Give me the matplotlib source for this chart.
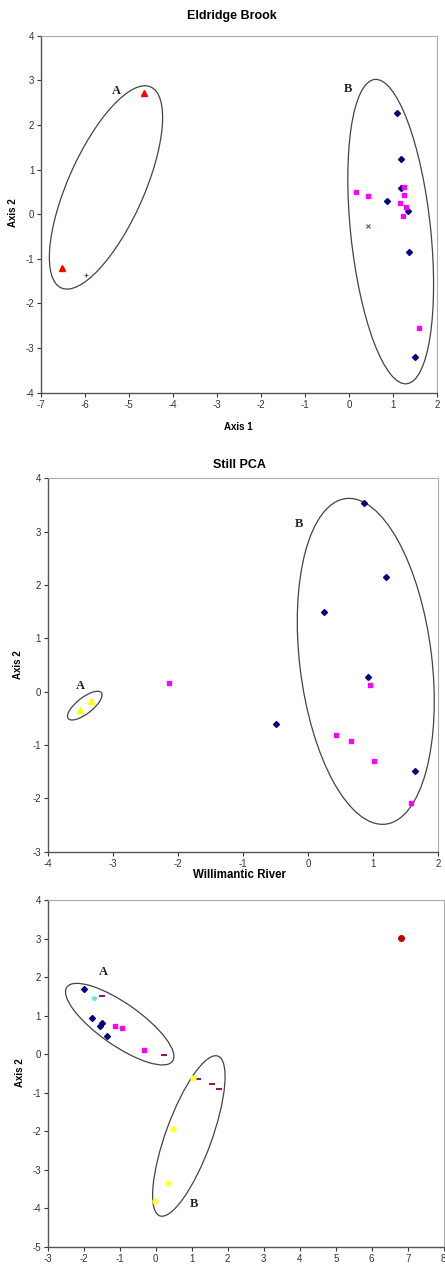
import numpy as np
import matplotlib
matplotlib.use("Agg")
import matplotlib.pyplot as plt
from matplotlib.patches import Ellipse
from matplotlib.transforms import ScaledTranslation

plt.rcParams['font.family'] = ['Liberation Sans', 'DejaVu Sans']
plt.rcParams['axes.unicode_minus'] = False

# ---- Eldridge Brook ----
eb_tri_x = [-4.67, -6.54]
eb_tri_y = [2.71, -1.21]
eb_plus_x = [-5.98]
eb_plus_y = [-1.36]
eb_dia_x = [1.08, 1.17, 1.17, 0.85, 1.34, 1.36, 1.50]
eb_dia_y = [2.27, 1.24, 0.59, 0.29, 0.07, -0.84, -3.21]
eb_sq_x = [0.16, 0.42, 1.24, 1.24, 1.15, 1.29, 1.21, 1.58]
eb_sq_y = [0.50, 0.41, 0.61, 0.44, 0.24, 0.17, -0.04, -2.54]
eb_x_x = [0.42]
eb_x_y = [-0.26]

# ---- Still PCA ----
sp_dia_x = [0.86, 1.20, 0.25, 0.92, -0.49, 1.65]
sp_dia_y = [3.54, 2.15, 1.50, 0.27, -0.61, -1.49]
sp_sq_x = [-2.13, 0.96, 0.43, 0.66, 1.01, 1.59]
sp_sq_y = [0.17, 0.12, -0.82, -0.93, -1.30, -2.09]
sp_tri_x = [-3.50, -3.34]
sp_tri_y = [-0.35, -0.18]

# ---- Willimantic River ----
wr_red_x = [6.80]
wr_red_y = [3.01]
wr_dia_x = [-1.99, -1.78, -1.54, -1.49, -1.35]
wr_dia_y = [1.69, 0.93, 0.74, 0.80, 0.48]
wr_cyan_x = [-1.72]
wr_cyan_y = [1.47]
wr_dash_x = [-1.48, 0.22, 1.18, 1.57, 1.76]
wr_dash_y = [1.52, -0.02, -0.64, -0.76, -0.90]
wr_sq_x = [-1.12, -0.93, -0.33]
wr_sq_y = [0.74, 0.67, 0.12]
wr_yel_x = [1.03, 0.48, 0.34, -0.03]
wr_yel_y = [-0.62, -1.94, -3.35, -3.80]

fig = plt.figure(figsize=(4.45, 12.66), dpi=100)


def style(ax, xl, yl):
    ax.set_xlim(*xl)
    ax.set_ylim(*yl)
    ax.set_xticks(np.arange(xl[0], xl[1] + 1))
    ax.set_yticks(np.arange(yl[0], yl[1] + 1))
    ax.tick_params(labelsize=7, colors='#333333', length=3, width=0.8, pad=2)
    for s in ['top', 'right']:
        ax.spines[s].set_color('#aaaaaa')
        ax.spines[s].set_linewidth(0.8)
    for s in ['left', 'bottom']:
        ax.spines[s].set_color('#555555')
        ax.spines[s].set_linewidth(1.0)


def ring(ax, cx, cy, w, h, ang):
    # size in inches, centre in data units
    tr = fig.dpi_scale_trans + ScaledTranslation(cx, cy, ax.transData)
    ax.add_patch(Ellipse((0, 0), w, h, angle=ang, transform=tr,
                         fill=False, ec='#444444', lw=0.9))


def letter(ax, x, y, t):
    ax.text(x, y, t, family='Liberation Serif', fontweight='bold',
            fontsize=9, ha='center', va='center', color='#222222')


# panel 1
ax1 = fig.add_axes([0.0928, 0.6898, 0.890, 0.282])
style(ax1, (-7, 2), (-4, 4))
ax1.plot(eb_tri_x, eb_tri_y, '^', color='red', ms=4, ls='none')
ax1.plot(eb_plus_x, eb_plus_y, '+', color='#2e6b2e', ms=3, mew=0.8, ls='none')
ax1.plot(eb_dia_x, eb_dia_y, 'D', color='#000080', ms=3, ls='none')
ax1.plot(eb_sq_x, eb_sq_y, 's', color='#ff00ff', ms=3.5, ls='none')
ax1.plot(eb_x_x, eb_x_y, 'x', color='#993399', ms=3, mew=0.8, ls='none')
ring(ax1, -5.53, 0.60, 2.20, 0.76, 66)
ring(ax1, 0.94, -0.39, 0.80, 3.06, 6)
letter(ax1, -5.30, 2.76, 'A')
letter(ax1, -0.04, 2.81, 'B')

# panel 2
ax2 = fig.add_axes([0.1072, 0.3272, 0.877, 0.2949])
style(ax2, (-4, 2), (-3, 4))
ax2.plot(sp_dia_x, sp_dia_y, 'D', color='#000080', ms=3, ls='none')
ax2.plot(sp_sq_x, sp_sq_y, 's', color='#ff00ff', ms=3.5, ls='none')
ax2.plot(sp_tri_x, sp_tri_y, '^', color='#ffff00', ms=4, ls='none')
ring(ax2, -3.43, -0.26, 0.42, 0.16, 38)
ring(ax2, 0.89, 0.57, 1.32, 3.28, 7)
letter(ax2, -3.50, 0.11, 'A')
letter(ax2, -0.14, 3.14, 'B')

# panel 3
ax3 = fig.add_axes([0.1072, 0.0150, 0.890, 0.2741])
style(ax3, (-3, 8), (-5, 4))
ax3.plot(wr_red_x, wr_red_y, 'o', color='#c00000', ms=4, ls='none')
ax3.plot(wr_dia_x, wr_dia_y, 'D', color='#000080', ms=3, ls='none')
ax3.plot(wr_cyan_x, wr_cyan_y, '*', color='#66e0e0', ms=3.5, ls='none')
ax3.plot(wr_dash_x, wr_dash_y, '_', color='#8b1a6b', ms=5, mew=1.5, ls='none')
ax3.plot(wr_sq_x, wr_sq_y, 's', color='#ff00ff', ms=3.5, ls='none')
ax3.plot(wr_yel_x, wr_yel_y, 'o', color='#ffff33', ms=3.5, ls='none')
ring(ax3, -1.0, 0.78, 1.29, 0.42, -35)
ring(ax3, 0.92, -2.12, 1.70, 0.46, 70)
letter(ax3, -1.45, 2.13, 'A')
letter(ax3, 1.05, -3.88, 'B')

# titles and axis labels
fig.text(0.522, 1 - 15.7 / 1266, 'Eldridge Brook', fontsize=9, fontweight='bold',
         ha='center', va='center')
fig.text(0.535, 1 - 427 / 1266, 'Axis 1', fontsize=7, fontweight='bold',
         ha='center', va='center')
fig.text(0.537, 1 - 465 / 1266, 'Still PCA', fontsize=9, fontweight='bold',
         ha='center', va='center')
fig.text(0.537, 1 - 875 / 1266, 'Willimantic River', fontsize=8.3, fontweight='bold',
         ha='center', va='center')
fig.text(13 / 445, 1 - 213 / 1266, 'Axis 2', fontsize=7, fontweight='bold',
         rotation=90, ha='center', va='center')
fig.text(18 / 445, 1 - 665 / 1266, 'Axis 2', fontsize=7, fontweight='bold',
         rotation=90, ha='center', va='center')
fig.text(20 / 445, 1 - 1073 / 1266, 'Axis 2', fontsize=7, fontweight='bold',
         rotation=90, ha='center', va='center')

fig.savefig('out.png', dpi=100)
